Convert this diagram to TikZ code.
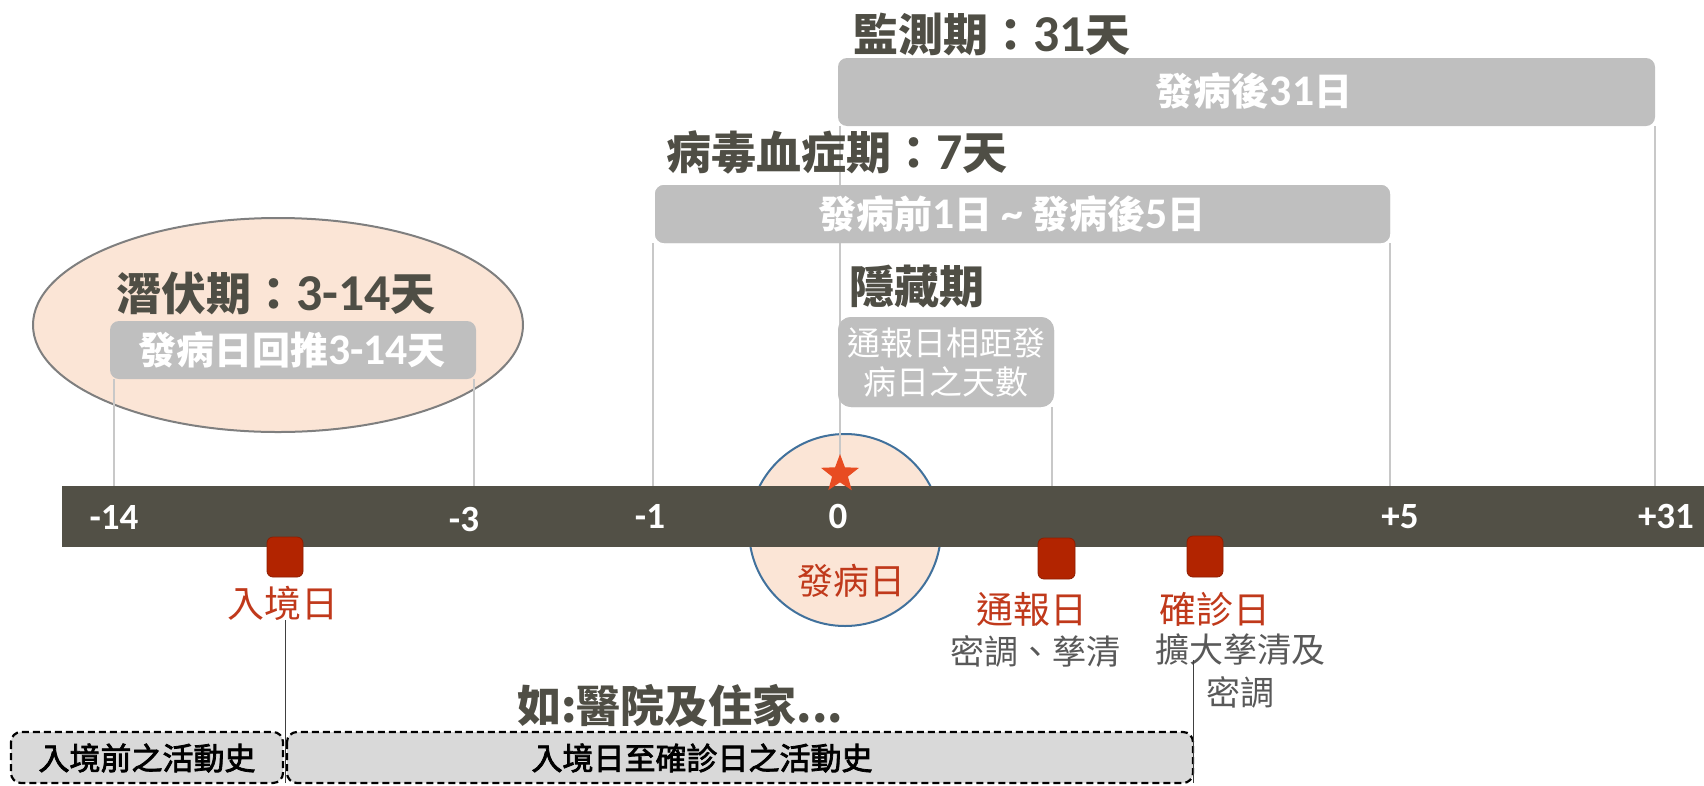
\documentclass[tikz,border=0pt]{standalone}
\usepackage{fontspec}
\usetikzlibrary{shapes.geometric}
\newfontfamily\cjk{Noto Sans CJK TC}
\newfontfamily\cjkmed[FakeBold=2.5]{Noto Sans CJK TC}
\newfontfamily\lat[Scale=1.15]{Carlito}
\newfontfamily\latbar{Carlito}
\newcommand\dg[1]{{\lat #1}}
\definecolor{barc}{HTML}{525046}
\definecolor{titlec}{HTML}{4F4E45}
\definecolor{boxg}{HTML}{BFBFBF}
\definecolor{peach}{HTML}{FBE5D6}
\definecolor{circb}{HTML}{41719C}
\definecolor{ellb}{HTML}{7F7F7F}
\definecolor{redt}{HTML}{C0391B}
\definecolor{markc}{HTML}{B22400}
\definecolor{starc}{HTML}{E84C22}
\definecolor{grayt}{HTML}{595959}
\definecolor{tickc}{HTML}{C8C8C8}
\definecolor{dashf}{HTML}{D9D9D9}
\tikzset{
  ticksty/.style={draw=tickc, line width=1.5pt},
  graybox/.style={fill=boxg, rounded corners=9pt},
  titletext/.style={font=\cjk\bfseries\fontsize{45}{50}\selectfont, text=titlec, inner sep=0},
  whitetext/.style={font=\cjk\bfseries\fontsize{38}{42}\selectfont, text=white, inner sep=0},
  barlabel/.style={font=\latbar\bfseries\fontsize{37}{40}\selectfont, text=white, inner sep=0},
  redlabel/.style={font=\cjk\fontsize{37}{42}\selectfont, text=redt, inner sep=0},
  graytext/.style={font=\cjk\fontsize{34}{43}\selectfont, text=grayt, inner sep=0, align=center},
  marker/.style={fill=markc, draw=markc!80!black, line width=0.8pt, rounded corners=6pt},
  dashbox/.style={fill=dashf, draw=black, line width=2.2pt, dash pattern=on 7pt off 4pt, rounded corners=10pt},
  blacktext/.style={font=\cjkmed\fontsize{31}{36}\selectfont, text=black, inner sep=0},
  conn/.style={draw=black!75, line width=1pt}
}
\begin{document}
\begin{tikzpicture}[x=1pt,y=-1pt]
\useasboundingbox (0,0) rectangle (1704,785);
% ellipse and circle
\node[ellipse, fill=peach, draw=ellb, line width=2pt, minimum width=490pt, minimum height=214pt, inner sep=0] (ell) at (278,325) {};
\node[circle, fill=peach, draw=circb, line width=2pt, minimum size=192pt, inner sep=0] (circ) at (845,530) {};
% boxes
\path[graybox] (838,58) rectangle (1655,126);
\node[coordinate] (monbl) at (840,126) {};
\node[coordinate] (monbr) at (1655,126) {};
\path[graybox] (655,185) rectangle (1390,243);
\node[coordinate] (virbl) at (653,243) {};
\node[coordinate] (virbr) at (1390,243) {};
\path[graybox, rounded corners=13pt] (838,317) rectangle (1054,407);
\node[coordinate] (hidbr) at (1052,407) {};
\path[graybox] (110,321) rectangle (476,379);
\node[coordinate] (incbl) at (114,379) {};
\node[coordinate] (incbr) at (474,379) {};
% tick targets on bar
\node[coordinate] (t14) at (114,486) {};
\node[coordinate] (t3) at (474,486) {};
\node[coordinate] (t1) at (653,486) {};
\node[coordinate] (t0) at (840,470) {};
\node[coordinate] (thid) at (1052,486) {};
\node[coordinate] (t5) at (1390,486) {};
\node[coordinate] (t31) at (1655,486) {};
\draw[ticksty] (incbl) -- (t14);
\draw[ticksty] (incbr) -- (t3);
\draw[ticksty] (virbl) -- (t1);
\draw[ticksty] (virbr) -- (t5);
\draw[ticksty] (monbl) -- (t0);
\draw[ticksty] (monbr) -- (t31);
\draw[ticksty] (hidbr) -- (thid);
% redraw boxes above 0 line
\path[graybox] (655,185) rectangle (1390,243);
\path[graybox, rounded corners=13pt] (838,317) rectangle (1054,407);
% bar
\fill[barc] (62,486) rectangle (1704,547);
\node[star, star points=5, star point ratio=2.4, fill=starc, minimum size=40pt, inner sep=0] (star) at (840,474) {};
% bar labels
\node[barlabel] (l14) at (114,517) {-14};
\node[barlabel] (l3) at (464,519) {-3};
\node[barlabel] (l1) at (650,516) {-1};
\node[barlabel] (l0) at (838,516) {0};
\node[barlabel] (l5) at (1400,517) {+5};
\node[barlabel] (l31) at (1666,516) {+31};
% markers
\path[marker] (267,537) rectangle (303,577);
\path[marker] (1038,538) rectangle (1075,579);
\path[marker] (1187,536) rectangle (1223,577);
% titles
\node[titletext] (montitle) at (992,34) {監測期：\dg{31}天};
\node[whitetext] (montext) at (1254,91) {發病後\dg{31}日};
\node[titletext] (virtitle) at (837,152) {病毒血症期：\dg{7}天};
\node[whitetext] (virtext) at (1012,214) {發病前\dg{1}日 \dg{\~{}} 發病後\dg{5}日};
\node[titletext] (hidtitle) at (917,286) {隱藏期};
\node[font=\cjk\fontsize{33}{39}\selectfont, text=white, inner sep=0, align=center] (hidtext) at (946,362) {通報日相距發\\病日之天數};
\node[titletext] (inctitle) at (276,293) {潛伏期：\dg{3-14}天};
\node[whitetext] (inctext) at (292,350) {發病日回推\dg{3-14}天};
% red labels
\node[font=\cjk\fontsize{36}{42}\selectfont, text=redt, inner sep=0] (onset) at (851,581) {發病日};
\node[redlabel] (entry) at (283,603) {入境日};
\node[redlabel] (report) at (1032,609) {通報日};
\node[redlabel] (diag) at (1215,609) {確診日};
\node[graytext] (reptext) at (1035,652) {密調、孳清};
\node[graytext, anchor=north] (diagtext) at (1240,634) {擴大孳清及\\密調};
% activity boxes
\path[dashbox] (11,732) rectangle (283,783);
\path[dashbox] (287,732) rectangle (1193,783);
\node[blacktext] (pre) at (147,758) {入境前之活動史};
\node[blacktext] (post) at (702,758) {入境日至確診日之活動史};
\node[font=\cjk\bfseries\fontsize{44}{50}\selectfont, text=titlec, inner sep=0] (eg) at (680,706) {如:醫院及住家...};
\node[coordinate] (entryend) at (285,783) {};
\node[coordinate] (diagend) at (1193,783) {};
\node[coordinate] (diagstart) at (1193,660) {};
\draw[conn] (entry.south -| entryend) -- (entryend);
\draw[conn] (diagstart) -- (diagend);
\end{tikzpicture}
\end{document}
